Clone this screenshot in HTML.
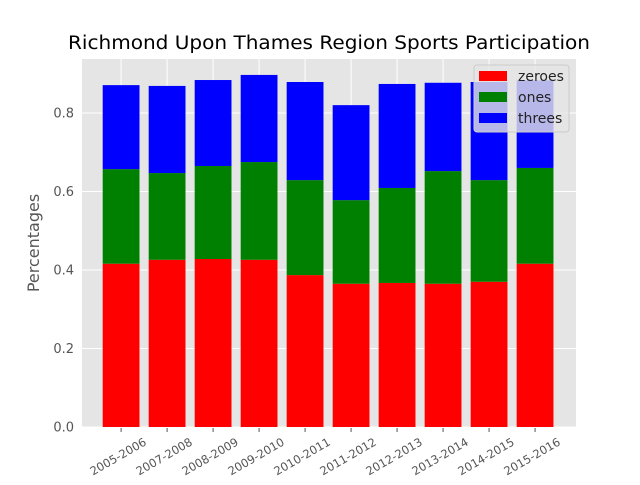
<!DOCTYPE html>
<html><head><meta charset="utf-8"><style>
body{margin:0;background:#fff;font-family:"Liberation Sans","DejaVu Sans",sans-serif}
</style></head><body>
<svg id="chart" width="640" height="480" xmlns="http://www.w3.org/2000/svg" font-family="DejaVu Sans, Liberation Sans, sans-serif">
<rect width="640" height="480" fill="#fff"/>
<rect x="82" y="59" width="494" height="368" fill="#e5e5e5"/>
<g id="grid"></g><g id="bars"></g><g id="ticks"></g>
<text x="329" y="49" text-anchor="middle" font-size="18.2" textLength="522" lengthAdjust="spacingAndGlyphs" fill="#000">Richmond Upon Thames Region Sports Participation</text>
<text transform="translate(39,243) rotate(-90)" text-anchor="middle" font-size="16" fill="#555">Percentages</text>
<g>
<rect x="474" y="65" width="95" height="67" rx="3" fill="#e5e5e5" fill-opacity="0.8" stroke="#ccc"/>
<rect x="479" y="71" width="28" height="10" fill="#ff0000"/>
<text x="518" y="81" font-size="14" fill="#222">zeroes</text>
<rect x="479" y="92" width="28" height="10" fill="#008000"/>
<text x="518" y="102" font-size="14" fill="#222">ones</text>
<rect x="479" y="113" width="28" height="10" fill="#0000ff"/>
<text x="518" y="123" font-size="14" fill="#222">threes</text>
</g>
</svg>
<script>
const categories=["2005-2006","2007-2008","2008-2009","2009-2010","2010-2011","2011-2012","2012-2013","2013-2014","2014-2015","2015-2016"];
const zeroes=[0.416,0.426,0.428,0.426,0.387,0.365,0.367,0.365,0.370,0.416];
const ones=[0.241,0.221,0.237,0.249,0.242,0.213,0.242,0.287,0.259,0.244];
const threes=[0.214,0.222,0.219,0.222,0.250,0.242,0.265,0.225,0.250,0.223];
const yTicks=[0,0.2,0.4,0.6,0.8];
const NS="http://www.w3.org/2000/svg";
const X0=82,X1=576,Y0=427,PX=392.5;
const xmin=-0.85,xmax=9.89;
function xs(i){return X0+(i-xmin)/(xmax-xmin)*(X1-X0);}
function ys(v){return Y0-v*PX;}
const unit=(X1-X0)/(xmax-xmin),bw=0.8*unit;
const grid=document.getElementById('grid'),bars=document.getElementById('bars'),ticks=document.getElementById('ticks');
function mk(tag,a,p){const e=document.createElementNS(NS,tag);for(const k in a)e.setAttribute(k,a[k]);p.appendChild(e);return e;}
yTicks.forEach(t=>{
 const l=mk('line',{x1:X0,x2:X1,y1:ys(t),y2:ys(t),stroke:'#fff','stroke-width':1},grid);
 
 
 const tx=mk('text',{x:X0-8,y:ys(t)+4.5,'text-anchor':'end','font-size':13,fill:'#555'},ticks);
 tx.textContent=t.toFixed(1);
 
 
});
categories.forEach((c,i)=>{
 const l=mk('line',{x1:xs(i),x2:xs(i),y1:59,y2:Y0,stroke:'#fff'},grid);
 
 
 const tk=mk('line',{x1:xs(i),x2:xs(i),y1:Y0+1,y2:Y0+5,stroke:'#555'},ticks);
 
 
 const tx=mk('text',{x:0,y:0,'text-anchor':'middle','font-size':11.5,fill:'#555',transform:`translate(${xs(i)-1},${Y0+33}) rotate(-30)`},ticks);
 tx.textContent=c;
 
 
 let b=0;
 [[zeroes,'#ff0000','zeroes'],[ones,'#008000','ones'],[threes,'#0000ff','threes']].forEach(([s,col,n])=>{
  const r=mk('rect',{x:xs(i)-bw/2,y:ys(b+s[i]),width:bw,height:s[i]*PX,fill:col},bars);
  
  
  b+=s[i];
 });
});
</script>
</body></html>
